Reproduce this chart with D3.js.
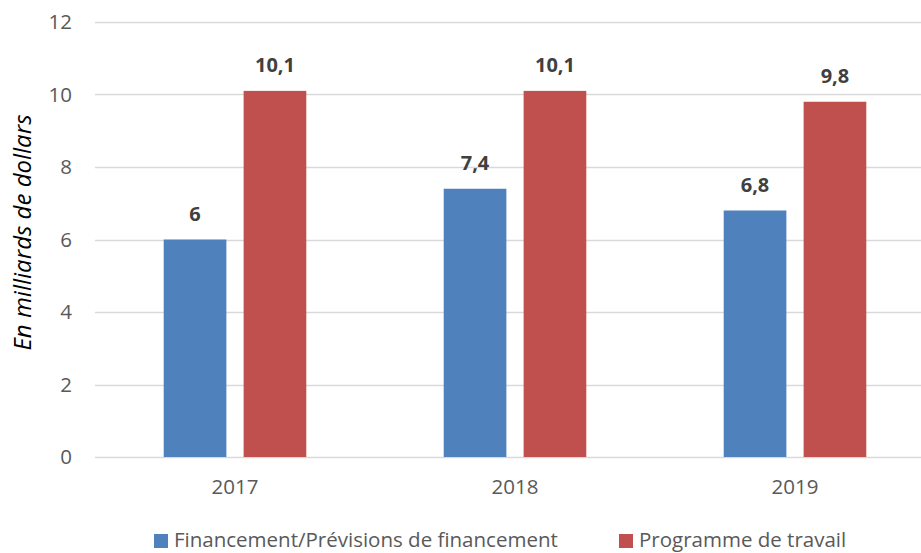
<!DOCTYPE html>
<html>
<head>
<meta charset="utf-8">
<script src="https://cdn.jsdelivr.net/npm/d3@7"></script>
<style>
  body { margin: 0; background: #fff; }
  svg { display: block; font-family: "Open Sans", sans-serif; }
</style>
</head>
<body>
<div id="chart"></div>
<script>
const years = ['2017', '2018', '2019']
const series = ['Financement/Prévisions de financement', 'Programme de travail']
const financement = [6, 7.4, 6.8]
const programme = [10.1, 10.1, 9.8]
const yTicks = [0, 2, 4, 6, 8, 10, 12]
const colors = ['#4F81BD', '#C0504D']

const width = 921
const height = 553
const margin = { left: 95, right: -14, top: 22, bottom: 96 }

const fmt = d => String(d).replace('.', ',')

const svg = d3.select('#chart')
  .append('svg')
  .attr('width', width)
  .attr('height', height)

const x = d3.scaleBand()
  .domain(years)
  .range([margin.left, width - margin.right])

const xInner = d3.scaleBand()
  .domain(series)
  .range([68.7, x.bandwidth() - 68.7])
  .paddingInner(0.216)

const y = d3.scaleLinear()
  .domain([0, 12])
  .range([height - margin.bottom, margin.top])

// grid
svg.append('g')
  .attr('class', 'grid')
  .selectAll('line')
  .data(yTicks)
  .join('line')
  .attr('x1', margin.left)
  .attr('x2', width)
  .attr('y1', d => Math.round(y(d)) + 0.5)
  .attr('y2', d => Math.round(y(d)) + 0.5)
  .attr('stroke', '#d9d9d9')
  .attr('stroke-width', 1.3)

// y axis labels
svg.append('g')
  .attr('class', 'y-axis')
  .attr('transform', `translate(${margin.left - 23}, 0)`)
  .call(d3.axisLeft(y).tickValues(yTicks).tickSize(0).tickPadding(0))
  .call(g => g.select('.domain').remove())
  .call(g => g.selectAll('text')
    .attr('font-family', '"Open Sans", sans-serif')
    .attr('font-size', 20.5)
    .attr('fill', '#595959'))

// x axis labels
svg.append('g')
  .attr('class', 'x-axis')
  .attr('transform', `translate(0, ${height - margin.bottom + 22})`)
  .call(d3.axisBottom(x).tickSize(0).tickPadding(0))
  .call(g => g.select('.domain').remove())
  .call(g => g.selectAll('text')
    .attr('font-family', '"Open Sans", sans-serif')
    .attr('font-size', 20.5)
    .attr('fill', '#595959'))

// bars
const rows = years.map((yr, i) => ({
  year: yr,
  values: [
    { key: series[0], value: financement[i], color: colors[0] },
    { key: series[1], value: programme[i], color: colors[1] }
  ]
}))

const group = svg.append('g')
  .attr('class', 'bars')
  .selectAll('g')
  .data(rows)
  .join('g')
  .attr('transform', d => `translate(${x(d.year)}, 0)`)

group.selectAll('rect')
  .data(d => d.values)
  .join('rect')
  .attr('x', d => xInner(d.key))
  .attr('width', xInner.bandwidth())
  .attr('y', d => y(d.value))
  .attr('height', d => y(0) - y(d.value))
  .attr('fill', d => d.color)

group.selectAll('text')
  .data(d => d.values)
  .join('text')
  .attr('x', d => xInner(d.key) + xInner.bandwidth() / 2)
  .attr('y', d => y(d.value) - 18.5)
  .attr('text-anchor', 'middle')
  .attr('font-size', 20)
  .attr('font-weight', 'bold')
  .attr('fill', '#404040')
  .text(d => fmt(d.value))

// y title
svg.append('text')
  .attr('transform', `translate(31, ${(y(0) + y(12)) / 2 - 7}) rotate(-90)`)
  .attr('text-anchor', 'middle')
  .attr('font-size', 24)
  .attr('font-style', 'italic')
  .attr('fill', '#000')
  .text('En milliards de dollars')

// legend
const legend = svg.append('g')
  .attr('class', 'legend')
  .attr('transform', `translate(154, 534)`)

const items = legend.selectAll('g')
  .data(series)
  .join('g')
  .attr('transform', (d, i) => `translate(${i === 0 ? 0 : 465}, 0)`)

items.append('rect')
  .attr('width', 14)
  .attr('height', 14)
  .attr('fill', (d, i) => colors[i])

items.append('text')
  .attr('x', 20)
  .attr('y', 13)
  .attr('font-size', 20.5)
  .attr('fill', '#595959')
  .text(d => d)
</script>
</body>
</html>
